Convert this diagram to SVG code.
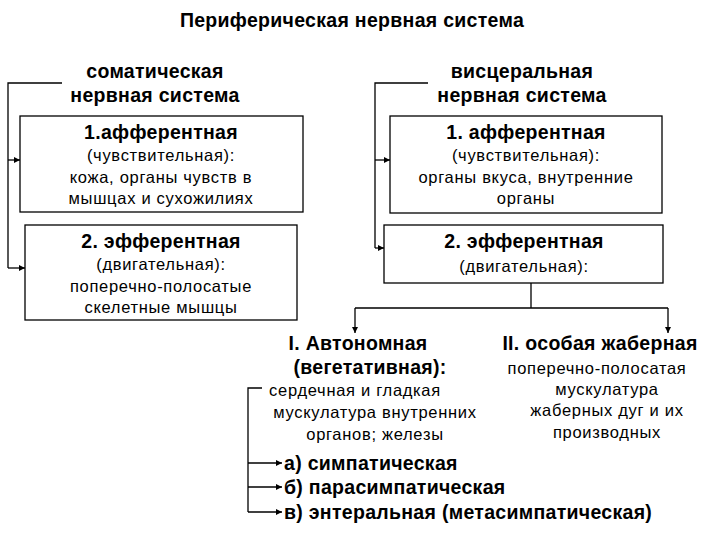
<svg xmlns="http://www.w3.org/2000/svg" width="720" height="540" viewBox="0 0 720 540">
<defs><marker id="a" viewBox="0 0 6 6" refX="6" refY="3" markerWidth="5" markerHeight="5" orient="auto"><path d="M0,0L6,3L0,6z" fill="#000"/></marker></defs>
<style>
text{font-family:"Liberation Sans",Arial,sans-serif;text-anchor:middle;fill:#000}
.h{font-size:19.5px;font-weight:bold;letter-spacing:0.3px}
.t{font-size:16.5px;letter-spacing:0.7px}
.b{fill:#fff;stroke:#000;stroke-width:1.3}
.c{fill:none;stroke:#000;stroke-width:1.3}
.m{marker-end:url(#a)}
</style>
<rect width="720" height="540" fill="#fff"/>
<text x="352" y="27" style="font-size:19.5px;font-weight:bold;letter-spacing:0.3px">Периферическая нервная система</text>
<g id="somatic"><text class="h" x="155" y="78">соматическая</text><text class="h" x="155" y="102">нервная система</text></g>
<g id="visceral"><text class="h" x="522" y="78">висцеральная</text><text class="h" x="522" y="102">нервная система</text></g>
<g id="s-aff"><rect class="b" x="20" y="116" width="283" height="96"/>
<text class="h" x="161" y="139">1.афферентная</text><text class="t" x="161" y="161">(чувствительная):</text><text class="t" x="161" y="183">кожа, органы чувств в</text><text class="t" x="161" y="204">мышцах и сухожилиях</text></g>
<g id="s-eff"><rect class="b" x="25" y="225" width="272" height="95"/>
<text class="h" x="161" y="248">2. эфферентная</text><text class="t" x="161" y="270">(двигательная):</text><text class="t" x="161" y="292">поперечно-полосатые</text><text class="t" x="161" y="313">скелетные мышцы</text></g>
<g id="v-aff"><rect class="b" x="390" y="116" width="272" height="97"/>
<text class="h" x="526" y="139">1. афферентная</text><text class="t" x="526" y="161">(чувствительная):</text><text class="t" x="526" y="183">органы вкуса, внутренние</text><text class="t" x="526" y="204">органы</text></g>
<g id="v-eff"><rect class="b" x="384" y="225" width="279" height="58"/>
<text class="h" x="524" y="248">2. эфферентная</text><text class="t" x="524" y="272">(двигательная):</text></g>
<g id="auto"><text class="h" x="358" y="350">I. Автономная</text><text class="h" x="370" y="374">(вегетативная):</text>
<text class="t" x="355" y="396">сердечная и гладкая</text><text class="t" x="375" y="418">мускулатура внутренних</text><text class="t" x="375" y="440">органов; железы</text></g>
<g id="gill"><text class="h" x="600" y="350">II. особая жаберная</text><text class="t" x="597" y="374">поперечно-полосатая</text><text class="t" x="607" y="395">мускулатура</text><text class="t" x="607" y="416">жаберных дуг и их</text><text class="t" x="607" y="438">производных</text></g>
<g id="subs"><text class="h" x="284" y="470" style="text-anchor:start">а) симпатическая</text><text class="h" x="284" y="494" style="text-anchor:start">б) парасимпатическая</text><text class="h" x="284" y="519" style="text-anchor:start">в) энтеральная (метасимпатическая)</text></g>
<g id="connectors">
<path class="c" d="M62,83H8V268"/>
<path class="c m" d="M8,160H20"/><path class="c m" d="M8,268H25"/>
<path class="c" d="M428,83H375V248"/>
<path class="c m" d="M375,160H390"/><path class="c m" d="M375,248H384"/>
<path class="c" d="M531,283V308M355,308H668"/>
<path class="c m" d="M355,308V333"/><path class="c m" d="M668,308V333"/>
<path class="c" d="M262,388H248V512"/>
<path class="c m" d="M248,463H282"/><path class="c m" d="M248,487H282"/><path class="c m" d="M248,512H282"/>
</g>
</svg>
